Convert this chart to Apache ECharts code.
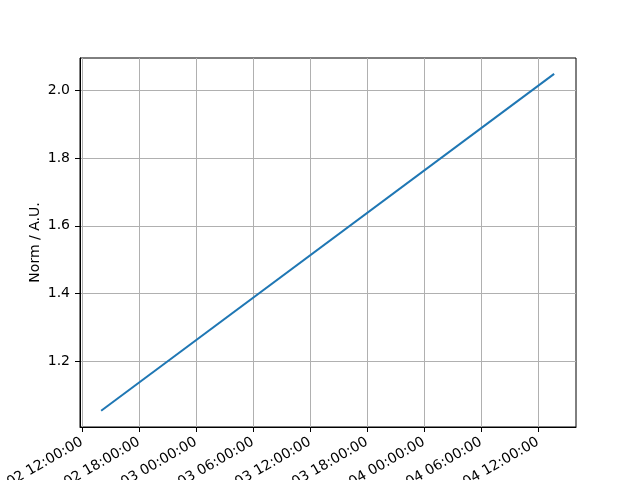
<!DOCTYPE html>
<html>
<head>
<meta charset="utf-8">
<script src="https://cdn.jsdelivr.net/npm/echarts@6/dist/echarts.min.js"></script>
<style>html,body{margin:0;padding:0;background:#fff;}#c{width:640px;height:480px;}</style>
</head>
<body>
<div id="c"></div>
<script>
// Data
const times = ['2024-01-02T14:02:00Z', '2024-01-04T13:42:00Z'];
const norms = [1.053, 2.049];
const xTickTimes = [
  '2024-01-02T12:00:00Z', '2024-01-02T18:00:00Z', '2024-01-03T00:00:00Z',
  '2024-01-03T06:00:00Z', '2024-01-03T12:00:00Z', '2024-01-03T18:00:00Z',
  '2024-01-04T00:00:00Z', '2024-01-04T06:00:00Z', '2024-01-04T12:00:00Z'
];
const yTicks = [1.2, 1.4, 1.6, 1.8, 2.0];
const xRange = ['2024-01-02T11:48:30Z', '2024-01-04T16:00:00Z'];
const yRange = [1.005, 2.096];

const ms = s => Date.parse(s);
const pad = n => String(n).padStart(2, '0');
function fmt(v) {
  const d = new Date(v);
  return d.getUTCFullYear() + '-' + pad(d.getUTCMonth() + 1) + '-' + pad(d.getUTCDate()) + ' ' +
    pad(d.getUTCHours()) + ':' + pad(d.getUTCMinutes()) + ':' + pad(d.getUTCSeconds());
}
const xTicks = xTickTimes.map(ms);
const seriesData = times.map((t, i) => [ms(t), norms[i]]);

const chart = echarts.init(document.getElementById('c'), null, {renderer: 'canvas'});
const txt = {color: '#000', fontFamily: 'DejaVu Sans', fontSize: 14};
chart.setOption({
  animation: false,
  backgroundColor: '#fff',
  grid: {left: 80, right: 64, top: 58, bottom: 53, containLabel: false, outerBoundsMode: 'none',
         show: true, borderColor: '#000', borderWidth: 1, backgroundColor: 'transparent'},
  xAxis: {
    type: 'value',
    min: ms(xRange[0]), max: ms(xRange[1]),
    axisLine: {show: true, lineStyle: {color: '#000', width: 1}},
    axisTick: {show: true, inside: false, length: 5, lineStyle: {color: '#000'}, customValues: xTicks},
    axisLabel: Object.assign({rotate: 30, margin: 14, hideOverlap: false, customValues: xTicks, formatter: v => fmt(v)}, txt),
    splitLine: {show: true, lineStyle: {color: '#b0b0b0', width: 1}}
  },
  yAxis: {
    type: 'value',
    min: yRange[0], max: yRange[1],
    name: 'Norm / A.U.', nameLocation: 'middle', nameGap: 38, nameRotate: 90, nameMoveOverlap: false,
    nameTextStyle: txt,
    axisLine: {show: true, lineStyle: {color: '#000', width: 1}},
    axisTick: {show: true, inside: false, length: 5, lineStyle: {color: '#000'}, customValues: yTicks},
    axisLabel: Object.assign({margin: 10, customValues: yTicks, formatter: v => v.toFixed(1)}, txt),
    splitLine: {show: true, lineStyle: {color: '#b0b0b0', width: 1}}
  },
  series: [{
    type: 'line',
    data: seriesData,
    showSymbol: false,
    symbol: 'none',
    lineStyle: {color: '#1f77b4', width: 2},
    z: 5
  }]
});
</script>
</body>
</html>
